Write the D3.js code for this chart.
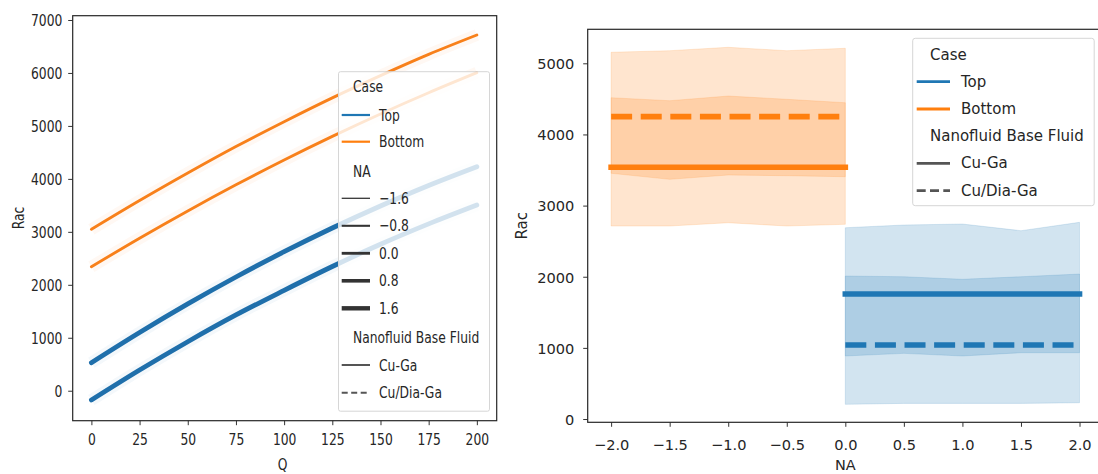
<!DOCTYPE html>
<html><head><meta charset="utf-8">
<script src="https://cdn.jsdelivr.net/npm/d3@7"></script>
<style>html,body{margin:0;padding:0;background:#fff;}svg{display:block;font-family:"DejaVu Sans",sans-serif;}</style>
</head><body>
<svg id="c" width="1098" height="474"></svg>
<script>
// ---------- data ----------
const cases = ["Top", "Bottom"];
const fluids = ["Cu-Ga", "Cu/Dia-Ga"];
const caseColors = ["#1f77b4", "#ff7f0e"];
// Left panel: Rac vs Q
const qValues = [0, 25, 50, 75, 100, 125, 150, 175, 200];
const topCuGaQ = [529, 1099, 1639, 2147, 2625, 3073, 3489, 3876, 4230];
const topCuDiaQ = [-176, 390, 925, 1430, 1895, 2345, 2765, 3150, 3506];
const bottomCuGaQ = [2341, 2879, 3394, 3887, 4356, 4802, 5226, 5626, 6005];
const bottomCuDiaQ = [3047, 3590, 4110, 4610, 5080, 5530, 5950, 6350, 6716];
const naLegendLevels = [-1.6, -0.8, 0.0, 0.8, 1.6];
const topMaxNA = 2.0, bottomMaxNA = 0.0;
const leftXTicks = [0, 25, 50, 75, 100, 125, 150, 175, 200];
const leftYTicks = [0, 1000, 2000, 3000, 4000, 5000, 6000, 7000];
// Right panel: Rac vs NA (mean line and interval)
const naBottom = [-2, -1.5, -1, -0.5, 0];
const naTop = [0, 0.5, 1, 1.5, 2];
const bottomCuGaMean = [3540, 3540, 3540, 3540, 3540];
const bottomCuGaLo = [2713, 2713, 2759, 2713, 2737];
const bottomCuGaHi = [4516, 4474, 4540, 4494, 4446];
const bottomCuDiaMean = [4250, 4250, 4250, 4250, 4250];
const bottomCuDiaLo = [3454, 3369, 3430, 3420, 3406];
const bottomCuDiaHi = [5155, 5177, 5225, 5177, 5211];
const topCuGaMean = [1757, 1757, 1757, 1757, 1757];
const topCuGaLo = [886, 923, 886, 932, 932];
const topCuGaHi = [2689, 2727, 2741, 2647, 2765];
const topCuDiaMean = [1040, 1040, 1040, 1040, 1040];
const topCuDiaLo = [206, 220, 220, 220, 229];
const topCuDiaHi = [2010, 2000, 1964, 2000, 2038];
const rightXTicks = [-2, -1.5, -1, -0.5, 0, 0.5, 1, 1.5, 2];
const rightYTicks = [0, 1000, 2000, 3000, 4000, 5000];

// ---------- helpers ----------
const svg = d3.select("#c");
const TXT = "#262626";
function label(g, x, y, s, o) {
  o = o || {};
  const gg = g.append("g").attr("transform",
    `translate(${x},${y})` + (o.rot ? ` rotate(${o.rot})` : "") + ` scale(${o.sx || 1},1)`);
  gg.append("text").attr("x", 0).attr("y", 0)
    .attr("text-anchor", o.anchor || "start")
    .attr("dominant-baseline", o.base || "auto")
    .attr("font-size", o.size || 16).attr("fill", o.fill || TXT).text(s);
  return gg;
}
const fmtInt = d3.format("d");
const fmt1 = d3.format(".1f");

// ================= LEFT PANEL =================
const L = {x0: 72.7, x1: 496.7, y0: 15.7, y1: 420.7, sx: 0.77, fs: 16};
const xL = d3.scaleLinear().domain([-9.7, 210.3]).range([L.x0, L.x1]);
const yL = d3.scaleLinear().domain([-566, 7081]).range([L.y1, L.y0]);
const widthNA = d3.scaleLinear().domain([-2, 2]).range([0.9, 4.8]);
const gL = svg.append("g");

const leftSeries = [
  {c: 0, f: 0, v: topCuGaQ, na: topMaxNA},
  {c: 0, f: 1, v: topCuDiaQ, na: topMaxNA},
  {c: 1, f: 0, v: bottomCuGaQ, na: bottomMaxNA},
  {c: 1, f: 1, v: bottomCuDiaQ, na: bottomMaxNA}
];
const lineL = d3.line().x((d, i) => xL(qValues[i])).y(d => yL(d)).curve(d3.curveMonotoneX);
leftSeries.forEach(s => {
  gL.append("path").attr("d", lineL(s.v)).attr("fill", "none")
    .attr("stroke", caseColors[s.c]).attr("stroke-opacity", 0.05).attr("stroke-width", 12);
});
leftSeries.forEach(s => {
  gL.append("path").attr("d", lineL(s.v)).attr("fill", "none")
    .attr("stroke", s.c === 0 ? "#1f6fab" : "#f8801a")
    .attr("stroke-width", widthNA(s.na)).attr("stroke-linecap", "round");
});

const axLX = gL.append("g").attr("transform", `translate(0,${L.y1})`)
  .call(d3.axisBottom(xL).tickValues(leftXTicks).tickSize(4.5).tickSizeOuter(0).tickFormat(fmtInt));
const axLY = gL.append("g").attr("transform", `translate(${L.x0},0)`)
  .call(d3.axisLeft(yL).tickValues(leftYTicks).tickSize(4.5).tickSizeOuter(0).tickFormat(fmtInt));
[axLX, axLY].forEach(a => { a.select(".domain").remove(); a.selectAll("line").attr("stroke", "#333"); });
axLX.selectAll("text").attr("font-size", L.fs).attr("fill", TXT).attr("font-family", "DejaVu Sans")
  .attr("y", 24.5).attr("dy", 0).attr("transform", `scale(${L.sx},1)`).attr("x", 0);
axLY.selectAll("text").attr("font-size", L.fs).attr("fill", TXT).attr("font-family", "DejaVu Sans")
  .attr("x", -10.4 / L.sx).attr("dy", "0.36em").attr("transform", `scale(${L.sx},1)`);
gL.append("rect").attr("x", L.x0).attr("y", L.y0).attr("width", L.x1 - L.x0).attr("height", L.y1 - L.y0)
  .attr("fill", "none").attr("stroke", "#262626").attr("stroke-width", 1.2);
label(gL, (L.x0 + L.x1) / 2 - 2, 469.5, "Q", {anchor: "middle", sx: L.sx, size: L.fs});
label(gL, 23.5, 218, "Rac", {anchor: "middle", sx: L.sx, size: L.fs, rot: -90});

const lg = gL.append("g");
lg.append("rect").attr("x", 338.5).attr("y", 71.7).attr("width", 151).attr("height", 339.5)
  .attr("rx", 2).attr("fill", "#fff").attr("fill-opacity", 0.8).attr("stroke", "#d6d6d6");
const lgRows = [
  {t: "Case", title: true, y: 86.7},
  {t: cases[0], y: 115, color: caseColors[0], w: 2.2},
  {t: cases[1], y: 141.7, color: caseColors[1], w: 2.2},
  {t: "NA", title: true, y: 171.7},
  ...naLegendLevels.map((v, i) => ({t: fmt1(v), y: 198.3 + i * 27.5, color: "#333", w: widthNA(v)})),
  {t: "Nanofluid Base Fluid", title: true, y: 337.3},
  {t: fluids[0], y: 365, color: "#555", w: 2},
  {t: fluids[1], y: 392.7, color: "#555", w: 2, dash: "6,3.5"}
];
lgRows.forEach(r => {
  if (r.title) {
    label(lg, 353, r.y, r.t, {sx: L.sx, size: L.fs, base: "central"});
  } else {
    lg.append("line").attr("x1", 341.7).attr("x2", 370).attr("y1", r.y).attr("y2", r.y)
      .attr("stroke", r.color).attr("stroke-width", r.w).attr("stroke-dasharray", r.dash || null);
    label(lg, 379, r.y, r.t, {sx: L.sx, size: L.fs, base: "central"});
  }
});

// ================= RIGHT PANEL =================
const R = {x0: 587.7, y0: 29.3, y1: 422.3, sx: 0.95, fs: 15};
const xR = d3.scaleLinear().domain([-2.2, 2.2]).range([R.x0, R.x0 + 4.4 * 117.1]);
const yR = d3.scaleLinear().domain([-46, 5478]).range([R.y1, R.y0]);
const gR = svg.append("g");
const rightSeries = [
  {c: 1, f: 0, na: naBottom, m: bottomCuGaMean, lo: bottomCuGaLo, hi: bottomCuGaHi},
  {c: 1, f: 1, na: naBottom, m: bottomCuDiaMean, lo: bottomCuDiaLo, hi: bottomCuDiaHi},
  {c: 0, f: 0, na: naTop, m: topCuGaMean, lo: topCuGaLo, hi: topCuGaHi},
  {c: 0, f: 1, na: naTop, m: topCuDiaMean, lo: topCuDiaLo, hi: topCuDiaHi}
];
rightSeries.forEach(s => {
  const area = d3.area().x((d, i) => xR(s.na[i])).y0((d, i) => yR(s.lo[i])).y1((d, i) => yR(s.hi[i]));
  gR.append("path").attr("d", area(s.m)).attr("fill", caseColors[s.c]).attr("fill-opacity", 0.2)
    .attr("stroke", caseColors[s.c]).attr("stroke-opacity", 0.15).attr("stroke-width", 1);
});
rightSeries.forEach(s => {
  const ln = d3.line().x((d, i) => xR(s.na[i])).y(d => yR(d));
  gR.append("path").attr("d", ln(s.m)).attr("fill", "none").attr("stroke", caseColors[s.c])
    .attr("stroke-width", 5.6)
    .attr("stroke-linecap", s.f === 0 ? "square" : "butt")
    .attr("stroke-dasharray", s.f === 1 ? "21,8.6" : null);
});
const axRX = gR.append("g").attr("transform", `translate(0,${R.y1})`)
  .call(d3.axisBottom(xR).tickValues(rightXTicks).tickSize(4.5).tickSizeOuter(0).tickFormat(fmt1));
const axRY = gR.append("g").attr("transform", `translate(${R.x0},0)`)
  .call(d3.axisLeft(yR).tickValues(rightYTicks).tickSize(4.5).tickSizeOuter(0).tickFormat(fmtInt));
[axRX, axRY].forEach(a => { a.select(".domain").remove(); a.selectAll("line").attr("stroke", "#333"); });
axRX.selectAll("text").attr("font-size", 14.6).attr("fill", TXT).attr("font-family", "DejaVu Sans")
  .attr("y", 27.7).attr("dy", 0).attr("x", 0);
axRY.selectAll("text").attr("font-size", 14.6).attr("fill", TXT).attr("font-family", "DejaVu Sans")
  .attr("x", -13.4).attr("dy", "0.36em");
gR.append("rect").attr("x", R.x0).attr("y", R.y0).attr("width", xR.range()[1] - R.x0).attr("height", R.y1 - R.y0)
  .attr("fill", "none").attr("stroke", "#262626").attr("stroke-width", 1.2);
label(gR, xR(0), 469.5, "NA", {anchor: "middle", size: 14.5});
label(gR, 527, (R.y0 + R.y1) / 2, "Rac", {anchor: "middle", size: 15, rot: -90});

const rg = gR.append("g");
rg.append("rect").attr("x", 912.7).attr("y", 38.3).attr("width", 181.5).attr("height", 167.4)
  .attr("rx", 2.5).attr("fill", "#fff").attr("fill-opacity", 0.8).attr("stroke", "#d6d6d6");
const rgRows = [
  {t: "Case", title: true, y: 55},
  {t: cases[0], y: 81.7, color: caseColors[0]},
  {t: cases[1], y: 109, color: caseColors[1]},
  {t: "Nanofluid Base Fluid", title: true, y: 136},
  {t: fluids[0], y: 163.3, color: "#555"},
  {t: fluids[1], y: 190.7, color: "#555", dash: "9,4.3"}
];
rgRows.forEach(r => {
  if (r.title) {
    label(rg, 930, r.y, r.t, {size: R.fs, base: "central"});
  } else {
    rg.append("line").attr("x1", 916.7).attr("x2", 950).attr("y1", r.y).attr("y2", r.y)
      .attr("stroke", r.color).attr("stroke-width", 2.8).attr("stroke-dasharray", r.dash || null);
    label(rg, 961, r.y, r.t, {size: R.fs, base: "central"});
  }
});
</script>
</body></html>
